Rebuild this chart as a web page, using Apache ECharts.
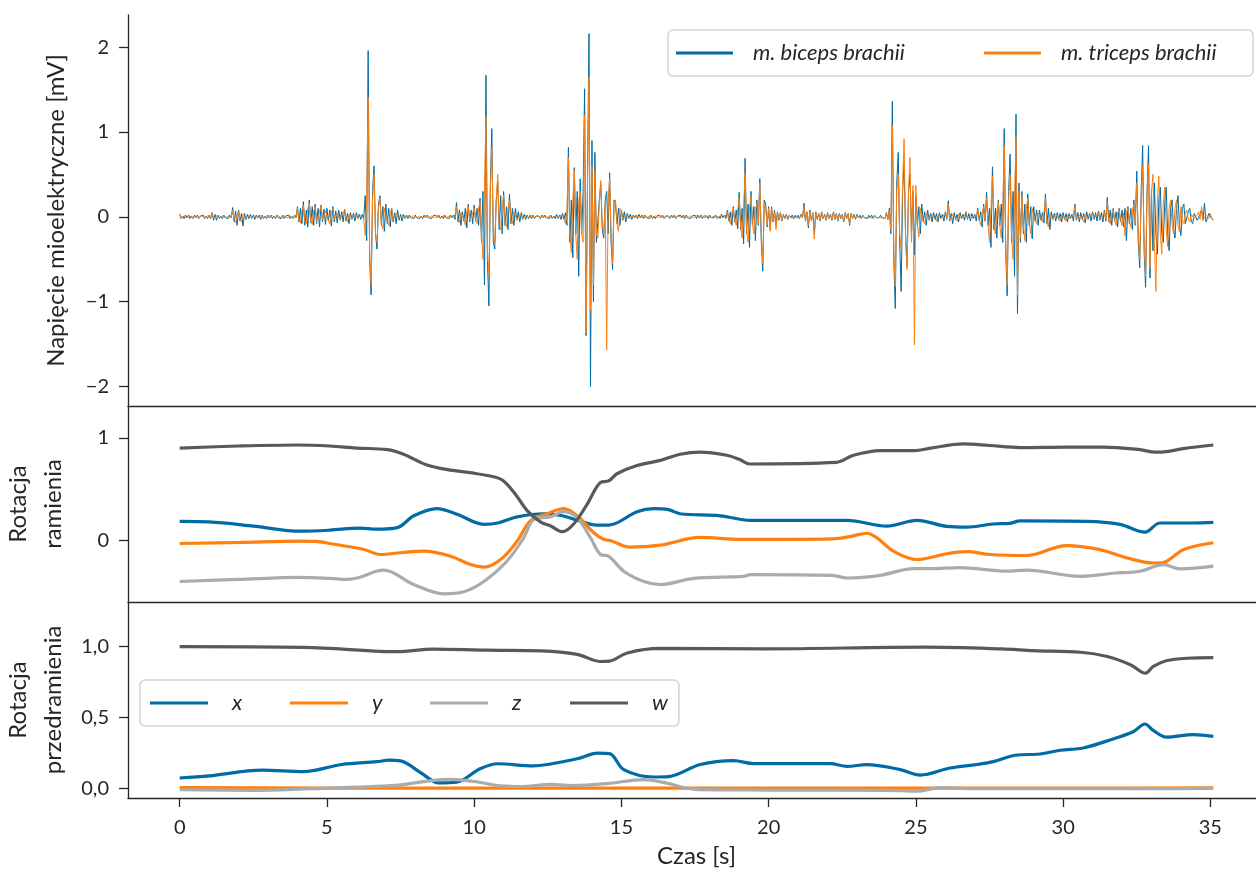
<!DOCTYPE html>
<html><head><meta charset="utf-8">
<script src="https://cdn.jsdelivr.net/npm/echarts@6/dist/echarts.min.js"></script>
<style>html,body{margin:0;padding:0;background:#fff}#c{width:1256px;height:875px}</style>
</head><body><div id="c"></div>
<script>
// ---------- DATA ----------
const emgStart = 0, emgStep = 0.05; // seconds, one row = 1 s
const bicepsValues = [
 0.02,-0.02,0.01,-0.02,0.02,-0.01,0.02,-0.02,0.01,-0.02,0.02,-0.01,0.02,-0.02,0.01,-0.01,0.02,-0.02,0.01,-0.02,
 0.02,-0.02,0.05,-0.04,0.03,-0.04,0.02,-0.02,0.01,-0.02,0.02,-0.01,0.01,-0.02,0.02,-0.01,0.11,-0.06,0.07,-0.10,
 0.08,-0.05,0.04,-0.11,0.04,-0.03,0.03,-0.02,0.03,-0.02,0.02,-0.03,0.02,-0.01,0.02,-0.03,0.02,-0.02,0.01,-0.02,
 0.02,-0.01,0.02,-0.02,0.01,-0.02,0.02,-0.01,0.01,-0.02,0.02,-0.02,0.01,-0.01,0.02,-0.02,0.01,-0.02,0.02,-0.01,
 0.12,-0.06,0.1,-0.08,0.18,-0.1,0.08,-0.12,0.2,-0.07,0.12,-0.1,0.15,-0.08,0.1,-0.12,0.14,-0.06,0.09,-0.09,
 0.1,-0.05,0.08,-0.11,0.12,-0.06,0.07,-0.07,0.08,-0.04,0.06,-0.06,0.09,-0.05,0.04,-0.08,0.05,-0.03,0.04,-0.05,
 0.05,-0.02,0.03,-0.03,0.03,-0.02,0.25,-0.28,1.96,-0.5,-0.92,0.3,0.6,-0.2,-0.38,0.15,0.25,-0.1,0.12,-0.17,
 0.15,-0.08,0.1,-0.12,0.1,-0.06,0.05,-0.08,0.08,-0.04,0.03,-0.05,0.03,-0.02,0.02,-0.02,0.02,-0.01,0.01,-0.02,
 0.02,-0.01,0.01,-0.02,0.01,-0.02,0.02,-0.01,0.02,-0.01,0.01,-0.02,0.01,-0.01,0.02,-0.01,0.02,-0.02,0.01,-0.02,
 0.02,-0.01,0.01,-0.02,0.02,-0.01,0.02,-0.03,0.17,-0.06,0.08,-0.1,0.06,-0.05,0.1,-0.13,0.15,-0.06,0.08,-0.08,
 0.14,-0.05,0.1,-0.1,0.22,-0.3,0.3,-0.8,1.67,-0.5,-1.05,0.4,1.04,-0.3,-0.38,0.2,0.42,-0.15,0.25,-0.2,
 0.3,-0.1,0.12,-0.15,0.27,-0.08,0.1,-0.1,0.1,-0.04,0.06,-0.06,0.05,-0.03,0.03,-0.03,0.02,-0.02,0.02,-0.02,
 0.02,-0.02,0.01,-0.01,0.01,-0.02,0.02,-0.01,0.02,-0.01,0.01,-0.02,0.02,-0.02,0.01,-0.02,0.03,-0.02,0.02,-0.03,
 0.04,-0.03,0.05,-0.1,0.82,-0.3,0.2,-0.48,0.58,-0.2,0.3,-0.70,0.45,-0.2,0.3,1.51,-1.4,0.5,2.16,-2.0,
 0.9,-1.0,0.76,-0.3,-0.3,0.2,0.4,-0.15,-0.25,0.2,0.3,-0.2,0.52,-0.3,-0.62,0.2,0.15,-0.08,0.1,-0.1,
 0.08,-0.04,0.06,-0.06,0.04,-0.02,0.03,-0.03,0.02,-0.01,0.02,-0.02,0.03,-0.01,0.02,-0.02,0.02,-0.01,0.01,-0.02,
 0.02,-0.02,0.01,-0.02,0.01,-0.01,0.02,-0.01,0.02,-0.02,0.01,-0.01,0.01,-0.02,0.02,-0.01,0.02,-0.02,0.01,-0.01,
 0.02,-0.01,0.02,-0.02,0.02,-0.01,0.01,-0.02,0.01,-0.01,0.02,-0.02,0.02,-0.01,0.02,-0.02,0.01,-0.01,0.01,-0.02,
 0.02,-0.01,0.01,-0.01,0.02,-0.02,0.01,-0.02,0.03,-0.01,0.02,-0.02,0.08,-0.05,0.06,-0.1,0.12,-0.06,0.08,-0.14,
 0.29,-0.15,0.1,-0.32,0.69,-0.2,0.15,-0.36,0.3,-0.1,0.12,-0.28,0.2,-0.1,0.45,-0.3,-0.64,0.2,0.15,-0.12,
 0.12,-0.15,0.12,-0.06,0.08,-0.1,0.06,-0.04,0.05,-0.05,0.03,-0.02,0.03,-0.03,0.02,-0.01,0.02,-0.02,0.02,-0.01,
 0.02,-0.02,0.03,-0.01,0.16,-0.05,0.06,-0.13,0.08,-0.04,0.05,-0.2,0.06,-0.03,0.04,-0.05,0.06,-0.02,0.03,-0.04,
 0.05,-0.02,0.03,-0.04,0.06,-0.03,0.04,-0.05,0.04,-0.02,0.03,-0.06,0.05,-0.02,0.04,-0.1,0.04,-0.02,0.03,-0.03,
 0.03,-0.01,0.02,-0.02,0.02,-0.01,0.01,-0.02,0.02,-0.01,0.02,-0.02,0.02,-0.01,0.01,-0.01,0.02,-0.01,0.01,-0.02,
 0.05,-0.03,0.1,-0.2,1.36,-0.5,-1.08,0.4,0.76,-0.3,-0.88,0.3,0.64,-0.2,-0.58,0.3,0.5,-0.2,0.3,-0.45,
 0.25,-0.1,0.12,-0.2,0.15,-0.06,0.06,-0.1,0.08,-0.04,0.04,-0.06,0.05,-0.03,0.04,-0.06,0.05,-0.02,0.03,-0.05,
 0.06,-0.03,0.19,-0.05,0.04,-0.08,0.05,-0.03,0.03,-0.06,0.05,-0.02,0.03,-0.04,0.06,-0.03,0.04,-0.05,0.04,-0.02,
 0.03,-0.05,0.1,-0.04,0.06,-0.12,0.15,-0.05,0.29,-0.1,0.1,-0.36,0.59,-0.15,0.1,-0.25,0.2,-0.1,0.15,-0.3,
 1.04,-0.4,-0.93,0.3,0.74,-0.3,0.3,-0.7,1.21,-1.14,0.4,-0.3,0.3,-0.2,0.15,-0.3,0.27,-0.1,0.12,-0.26,
 0.12,-0.05,0.08,-0.1,0.08,-0.04,0.05,-0.07,0.27,-0.08,0.1,-0.15,0.06,-0.03,0.04,-0.05,0.05,-0.03,0.04,-0.06,
 0.05,-0.03,0.04,-0.06,0.04,-0.02,0.03,-0.05,0.15,-0.04,0.05,-0.06,0.05,-0.03,0.04,-0.07,0.06,-0.03,0.04,-0.05,
 0.06,-0.03,0.05,-0.05,0.07,-0.04,0.05,-0.06,0.08,-0.05,0.23,-0.06,0.08,-0.1,0.1,-0.05,0.06,-0.12,0.1,-0.06,
 0.08,-0.12,0.1,-0.28,0.12,-0.08,0.1,-0.15,0.2,-0.1,0.54,-0.3,-0.6,0.3,0.84,-0.4,-0.83,0.3,0.84,-0.72,
 0.3,-0.4,0.4,-0.2,-0.44,0.2,0.35,-0.2,-0.3,0.15,0.35,-0.2,-0.4,0.1,0.2,-0.15,-0.25,0.1,0.25,-0.1,
 -0.22,0.1,0.15,-0.08,-0.1,0.06,0.1,-0.05,-0.08,0.04,0.06,-0.04,-0.05,0.03,0.08,-0.04,0.16,-0.06,-0.06,0.04,
 0.05,-0.02,-0.04
];
const tricepsValues = [
 0.04,-0.01,-0.01,0.01,0.01,-0.01,-0.02,0.01,0.01,-0.01,-0.01,0.01,0.02,-0.01,-0.01,0.01,0.01,-0.01,-0.02,0.01,
 0.01,-0.01,0.04,-0.02,-0.03,0.01,0.02,-0.01,-0.01,0.01,0.02,-0.01,-0.01,0.01,0.01,-0.01,0.08,-0.04,-0.07,0.03,
 0.06,-0.03,-0.06,0.03,0.03,-0.01,-0.02,0.01,0.03,-0.01,-0.02,0.01,0.02,-0.01,-0.02,0.01,0.02,-0.01,-0.01,0.01,
 0.01,-0.01,-0.02,0.01,0.01,-0.01,-0.01,0.01,0.02,-0.01,-0.01,0.01,0.01,-0.01,-0.02,0.01,0.01,-0.01,-0.01,0.01,
 0.1,-0.04,-0.07,0.08,0.14,-0.05,-0.08,0.1,0.16,-0.05,-0.09,0.07,0.12,-0.06,-0.08,0.06,0.13,-0.04,-0.06,0.07,
 0.08,-0.04,-0.08,0.06,0.1,-0.03,-0.05,0.04,0.06,-0.03,-0.05,0.05,0.08,-0.03,-0.06,0.03,0.04,-0.02,-0.04,0.03,
 0.04,-0.01,-0.02,0.02,0.03,-0.02,-0.22,0.2,1.41,-0.4,-0.80,0.2,0.5,-0.2,-0.3,0.1,0.22,-0.08,-0.14,0.1,
 0.12,-0.05,-0.1,0.06,0.09,-0.04,-0.06,0.04,0.06,-0.02,-0.04,0.02,0.02,-0.01,-0.02,0.01,0.01,-0.01,-0.01,0.01,
 0.01,-0.01,-0.01,0.01,0.01,-0.01,-0.01,0.01,0.01,-0.01,-0.01,0.01,0.01,-0.01,-0.01,0.01,0.01,-0.01,-0.01,0.01,
 0.01,-0.01,-0.01,0.01,0.01,-0.01,-0.02,0.02,0.12,-0.04,-0.07,0.05,0.05,-0.03,-0.1,0.06,0.12,-0.04,-0.06,0.05,
 0.1,-0.04,-0.08,0.1,0.18,-0.2,-0.5,0.3,1.18,-0.4,-0.7,0.3,0.82,-0.2,-0.3,0.2,0.5,-0.1,-0.15,0.15,
 0.25,-0.06,-0.12,0.1,0.2,-0.05,-0.08,0.06,0.08,-0.03,-0.05,0.03,0.04,-0.02,-0.02,0.02,0.02,-0.01,-0.01,0.01,
 0.01,-0.01,-0.01,0.01,0.02,-0.01,-0.01,0.01,0.01,-0.01,-0.02,0.01,0.01,-0.01,-0.01,0.01,0.02,-0.01,-0.02,0.02,
 0.03,-0.02,-0.08,0.05,0.70,-0.2,-0.42,0.2,0.55,-0.2,-0.5,0.2,0.3,-0.2,-0.3,1.2,-1.37,0.4,1.65,-1.1,
 0.6,-0.8,0.54,-0.2,-0.25,0.15,0.43,-0.1,-0.2,0.15,-1.57,0.2,0.45,-0.2,-0.55,0.15,0.2,-0.08,-0.17,0.1,
 0.07,-0.03,-0.05,0.03,0.03,-0.01,-0.02,0.01,0.02,-0.01,-0.02,0.01,0.02,-0.01,-0.01,0.01,0.01,-0.01,-0.01,0.01,
 0.01,-0.01,-0.01,0.01,0.02,-0.01,-0.01,0.01,0.01,-0.01,-0.01,0.01,0.01,-0.01,-0.01,0.01,0.02,-0.01,-0.01,0.01,
 0.01,-0.01,-0.02,0.01,0.01,-0.01,-0.01,0.01,0.02,-0.01,-0.01,0.01,0.01,-0.01,-0.01,0.01,0.01,-0.01,-0.01,0.01,
 0.01,-0.01,-0.01,0.01,0.02,-0.01,-0.01,0.01,0.02,-0.01,-0.02,0.02,0.06,-0.03,-0.08,0.05,0.1,-0.04,-0.1,0.08,
 0.22,-0.1,-0.25,0.1,0.52,-0.15,-0.3,0.1,0.25,-0.08,-0.2,0.1,0.15,-0.08,0.4,-0.2,-0.55,0.15,0.12,-0.1,
 0.1,-0.17,0.1,-0.05,0.06,-0.15,0.05,-0.03,0.04,-0.04,0.02,-0.02,0.02,-0.02,0.02,-0.01,0.01,-0.01,0.01,-0.01,
 0.01,-0.01,0.02,-0.01,0.12,-0.04,0.05,-0.1,0.06,-0.03,0.04,-0.26,0.05,-0.02,0.03,-0.04,0.05,-0.02,0.02,-0.03,
 0.04,-0.02,0.02,-0.03,0.05,-0.02,0.03,-0.04,0.03,-0.01,0.02,-0.05,0.04,-0.02,0.03,-0.08,0.03,-0.01,0.02,-0.02,
 0.02,-0.01,0.01,-0.01,0.02,-0.01,0.01,-0.01,0.01,-0.01,0.01,-0.01,0.02,-0.01,0.01,-0.01,0.01,-0.01,0.01,-0.02,
 0.04,-0.02,0.08,-0.15,1.08,-0.4,-0.82,0.3,0.5,-0.2,-0.38,0.4,0.92,-0.3,-0.62,0.3,0.7,-0.3,0.37,-1.51,
 0.37,-0.1,-0.24,0.1,0.12,-0.05,-0.08,0.04,0.06,-0.03,-0.05,0.03,0.04,-0.02,-0.05,0.02,0.04,-0.02,-0.04,0.02,
 0.05,-0.02,0.15,-0.04,-0.06,0.03,0.04,-0.02,-0.05,0.03,0.04,-0.02,-0.03,0.02,0.05,-0.02,-0.04,0.02,0.03,-0.02,
 -0.04,0.02,0.08,-0.03,-0.1,0.05,0.12,-0.05,0.22,-0.1,-0.3,0.1,0.48,-0.1,-0.2,0.08,0.18,-0.1,-0.25,0.1,
 0.84,-0.3,-0.8,0.2,0.5,-0.2,-0.5,0.2,0.94,-0.92,0.3,-0.25,0.25,-0.1,-0.28,0.1,0.22,-0.08,-0.2,0.1,
 0.1,-0.04,-0.08,0.05,0.07,-0.03,-0.06,0.05,0.22,-0.06,-0.12,0.04,0.05,-0.02,-0.04,0.03,0.04,-0.02,-0.05,0.03,
 0.04,-0.02,-0.05,0.02,0.03,-0.02,-0.04,0.03,0.12,-0.03,-0.05,0.02,0.04,-0.02,-0.06,0.03,0.05,-0.02,-0.04,0.02,
 0.05,-0.02,-0.04,0.03,0.06,-0.03,-0.05,0.03,0.06,-0.03,0.18,-0.05,-0.08,0.04,0.08,-0.04,-0.1,0.05,0.08,-0.04,
 -0.1,0.05,-0.22,0.06,0.1,-0.05,-0.12,0.06,0.15,-0.08,0.4,-0.2,-0.5,0.2,0.6,-0.3,-0.7,0.3,0.62,-0.6,
 0.3,0.5,-0.3,-0.88,0.2,0.48,-0.2,-0.44,0.15,0.35,-0.15,-0.35,0.1,0.2,-0.1,-0.2,0.1,0.2,-0.1,-0.18,
 0.12,-0.05,-0.08,0.04,0.08,-0.03,-0.06,0.03,0.05,-0.02,-0.04,0.02,0.06,-0.03,0.12,-0.04,-0.05,0.02,0.04,-0.02,
 0.04,-0.02,-0.03
];

// arm rotation quaternion [t, value]
const armX = [[0,0.185],[1,0.18],[2.5,0.14],[4.1,0.09],[5.1,0.10],[6.1,0.12],[6.7,0.11],[7.39,0.125],[7.95,0.24],[8.74,0.31],[9.42,0.255],[10.33,0.157],[10.8,0.17],[11.46,0.23],[12.37,0.26],[13.0,0.24],[13.5,0.196],[14.17,0.15],[14.57,0.15],[15.53,0.28],[16.1,0.31],[16.6,0.30],[17.0,0.26],[18.36,0.24],[19.38,0.196],[22.66,0.196],[24.01,0.14],[25.03,0.196],[26.05,0.137],[26.72,0.13],[27.62,0.16],[28.2,0.167],[28.54,0.19],[30.8,0.186],[31.93,0.157],[32.78,0.08],[33.29,0.17],[34.42,0.17],[35.1,0.176]];
const armY = [[0,-0.03],[2,-0.02],[4.1,-0.007],[4.6,-0.01],[5.2,-0.035],[6.26,-0.088],[6.82,-0.137],[7.5,-0.12],[8.3,-0.105],[9.2,-0.154],[9.87,-0.235],[10.33,-0.26],[10.9,-0.186],[11.46,-0.007],[11.91,0.19],[12.48,0.26],[13.04,0.31],[13.5,0.24],[14.06,0.075],[14.4,0.01],[14.62,0.0],[15.3,-0.065],[16.32,-0.046],[17.68,0.03],[19.04,0.01],[22.2,0.016],[22.8,0.04],[23.33,0.07],[23.7,0.02],[24.24,-0.105],[25.03,-0.186],[26.05,-0.13],[26.72,-0.11],[27.52,-0.137],[28.76,-0.147],[30.12,-0.05],[31.25,-0.09],[32.16,-0.17],[33.06,-0.22],[33.4,-0.215],[34.08,-0.09],[35.1,-0.023]];
const armZ = [[0,-0.40],[2,-0.38],[4.1,-0.36],[5.12,-0.37],[5.69,-0.38],[6.03,-0.366],[6.93,-0.29],[7.95,-0.43],[8.97,-0.52],[9.65,-0.50],[10.33,-0.40],[11.12,-0.20],[11.68,0.026],[12.03,0.206],[12.59,0.23],[13.04,0.28],[13.5,0.22],[13.95,0.026],[14.29,-0.137],[14.57,-0.154],[15.08,-0.30],[15.76,-0.40],[16.32,-0.43],[17.46,-0.37],[19.15,-0.35],[19.38,-0.333],[22.15,-0.34],[22.66,-0.366],[23.79,-0.34],[24.92,-0.275],[25.5,-0.275],[26.5,-0.265],[28.09,-0.30],[28.76,-0.29],[30.57,-0.35],[31.7,-0.32],[32.61,-0.30],[33.4,-0.235],[33.97,-0.277],[35.1,-0.25]];
const armW = [[0,0.90],[2,0.92],[4,0.93],[5.1,0.92],[6,0.90],[7.05,0.885],[7.6,0.84],[8.4,0.735],[9.1,0.69],[9.87,0.66],[10.66,0.62],[11.0,0.58],[11.4,0.45],[11.8,0.29],[12.25,0.18],[12.6,0.14],[13.0,0.085],[13.38,0.16],[13.83,0.35],[14.29,0.565],[14.57,0.58],[14.85,0.65],[15.53,0.73],[16.32,0.78],[17.0,0.84],[17.68,0.86],[18.58,0.83],[19.0,0.79],[19.35,0.745],[22.3,0.76],[22.88,0.83],[23.79,0.875],[24.97,0.875],[25.5,0.9],[26.6,0.94],[27.5,0.925],[28.54,0.905],[30.12,0.91],[31.37,0.91],[32.61,0.885],[33.12,0.86],[33.5,0.865],[34.08,0.895],[35.1,0.93]];

// forearm rotation quaternion [t, value]
const foreX = [[0,0.075],[1,0.09],[2.8,0.13],[4.2,0.12],[5.5,0.17],[6.7,0.19],[7.1,0.2],[7.5,0.195],[8.2,0.11],[8.8,0.04],[9.4,0.045],[10.2,0.14],[10.8,0.175],[12.0,0.16],[12.5,0.17],[13.5,0.21],[14.2,0.25],[14.6,0.246],[15.08,0.134],[16.1,0.082],[16.6,0.085],[17.68,0.17],[18.81,0.197],[19.49,0.176],[22.09,0.176],[22.66,0.157],[23.33,0.169],[24.47,0.134],[25.15,0.095],[26.16,0.145],[27.07,0.17],[27.63,0.19],[28.37,0.235],[29.22,0.244],[29.9,0.27],[30.68,0.286],[31.7,0.35],[32.38,0.40],[32.78,0.455],[33.06,0.41],[33.51,0.363],[34.42,0.38],[35.1,0.368]];
const foreY = [[0,0.008],[5,0.004],[10,0.003],[15,0.004],[20,0.004],[25,0.003],[30,0.004],[35.1,0.005]];
const foreZ = [[0,-0.008],[2.5,-0.012],[4.5,0.0],[6,0.01],[7.4,0.025],[8.5,0.055],[9.2,0.065],[10,0.05],[10.9,0.02],[11.7,0.015],[12.6,0.03],[13.3,0.022],[14.5,0.035],[15.76,0.063],[16.5,0.04],[17.5,-0.005],[20,-0.01],[24,-0.012],[25,-0.018],[25.9,0.008],[27,0.0],[30,0.0],[33,0.0],[35.1,0.002]];
const foreW = [[0,1.0],[4.2,0.995],[6.8,0.967],[7.4,0.965],[8.6,0.982],[10.4,0.975],[12.3,0.97],[13.5,0.945],[14.3,0.895],[14.6,0.898],[15.2,0.955],[16.3,0.987],[19.9,0.984],[25.3,0.996],[27.9,0.984],[29.0,0.972],[30.6,0.96],[31.5,0.93],[32.3,0.871],[32.8,0.813],[33.06,0.86],[33.5,0.90],[34.2,0.918],[35.1,0.922]];

const timeTicks = [0,5,10,15,20,25,30,35];
const emgTicks = [-2,-1,0,1,2];
const armTicks = [0,1];
const foreTicks = [0,0.5,1];
const emgNames = ['m. biceps brachii','m. triceps brachii'];
const quatNames = ['x','y','z','w'];

// ---------- STYLE ----------
const FONT = 'Lato';
const TXT = '#262626';
const AXC = '#262626';
const COL = {x:'#006BA4', y:'#FF800E', z:'#ABABAB', w:'#595959'};
const axisLineStyle = {color: AXC, width: 1.3};

function emgPairs(vals){ return vals.map((v,i)=>[Math.round((emgStart+i*emgStep)*100)/100, v]); }

const chart = echarts.init(document.getElementById('c'), null, {renderer:'canvas', width:1256, height:875});

const gridLeft = 128, gridWidth = 1137;
const grids = [
  {left:gridLeft, top:15, width:gridWidth, height:391, outerBoundsMode:'none', containLabel:false},
  {left:gridLeft, top:406, width:gridWidth, height:196, outerBoundsMode:'none', containLabel:false},
  {left:gridLeft, top:602, width:gridWidth, height:196, outerBoundsMode:'none', containLabel:false}
];

function xAx(i, bottom){
  const a = {
    type:'value', gridIndex:i, min:-1.755, max:36.855,
    axisLine:{show:true, onZero:false, lineStyle:axisLineStyle},
    splitLine:{show:false},
    axisTick:{show:false}, axisLabel:{show:false}
  };
  if (bottom){
    a.axisTick = {show:true, customValues:timeTicks, length:9, lineStyle:axisLineStyle};
    a.axisLabel = {show:true, customValues:timeTicks, margin:20, fontSize:20, fontFamily:FONT, color:TXT};
    a.name = 'Czas [s]';
    a.nameLocation = 'middle';
    a.nameGap = 46;
    a.nameTextStyle = {fontSize:24, fontFamily:FONT, color:TXT};
  }
  return a;
}
function yAx(i, min, max, ticks, name, fmt, gap){
  return {
    type:'value', gridIndex:i, min:min, max:max,
    axisLine:{show:true, onZero:false, lineStyle:axisLineStyle},
    splitLine:{show:false},
    axisTick:{show:true, customValues:ticks, length:9, lineStyle:axisLineStyle},
    axisLabel:{show:true, customValues:ticks, margin:19, fontSize:20, fontFamily:FONT, color:TXT, formatter:fmt},
    name:name, nameLocation:'middle', nameGap:gap, nameRotate:90,
    nameTextStyle:{fontSize:24, fontFamily:FONT, color:TXT, lineHeight:35}
  };
}
const minusFmt = v => String(v).replace('-', '\u2212');
const commaFmt = v => v.toFixed(1).replace('.', ',');

function quatSeries(data, name, idx){
  return {type:'line', name:name, xAxisIndex:idx, yAxisIndex:idx, data:data,
    showSymbol:false, symbol:'none', smooth:0.35, silent:true,
    lineStyle:{width:3.2, color:COL[name]}, itemStyle:{color:COL[name]}};
}
function emgSeries(vals, name, color){
  return {type:'line', name:name, xAxisIndex:0, yAxisIndex:0, data:emgPairs(vals),
    showSymbol:false, symbol:'none', silent:true,
    lineStyle:{width:1.0, color:color}, itemStyle:{color:color}};
}

const legendBase = {
  orient:'horizontal', icon:'rect', itemHeight:3,
  borderColor:'#d2d2d2', borderWidth:1.5, borderRadius:5,
  backgroundColor:'rgba(255,255,255,0.8)', selectedMode:false,
  itemStyle:{borderWidth:0}
};

const option = {
  animation:false,
  backgroundColor:'#ffffff',
  grid:grids,
  xAxis:[xAx(0,false), xAx(1,false), xAx(2,true)],
  yAxis:[
    yAx(0, -2.2295, 2.3795, emgTicks, 'Napięcie mioelektryczne [mV]', minusFmt, 54),
    yAx(1, -0.60, 1.31, armTicks, 'Rotacja\nramienia', minusFmt, 57),
    yAx(2, -0.066, 1.314, foreTicks, 'Rotacja\nprzedramienia', commaFmt, 57)
  ],
  legend:[
    Object.assign({}, legendBase, {
      data:emgNames, left:668, top:30, itemWidth:57, itemGap:51, padding:[12,12,12,8],
      formatter: n => '{s| }{t|' + n + '}',
      textStyle:{fontFamily:FONT, fontSize:22, color:TXT, fontStyle:'italic',
        rich:{s:{width:15, fontSize:22, lineHeight:24}, t:{width:180, fontSize:22, lineHeight:24, fontStyle:'italic', fontFamily:FONT, color:TXT}}}
    }),
    Object.assign({}, legendBase, {
      data:quatNames, left:140, top:680, itemWidth:58, itemGap:44, padding:[12,11,12,10],
      formatter: n => '{s| }{t|' + n + '}',
      textStyle:{fontFamily:FONT, fontSize:22, color:TXT, fontStyle:'italic',
        rich:{s:{width:19, fontSize:22, lineHeight:24}, t:{width:14, fontSize:22, lineHeight:24, fontStyle:'italic', fontFamily:FONT, color:TXT}}}
    })
  ],
  series:[
    emgSeries(bicepsValues, emgNames[0], COL.x),
    emgSeries(tricepsValues, emgNames[1], COL.y),
    quatSeries(armX,'x',1), quatSeries(armY,'y',1), quatSeries(armZ,'z',1), quatSeries(armW,'w',1),
    quatSeries(foreX,'x',2), quatSeries(foreY,'y',2), quatSeries(foreZ,'z',2), quatSeries(foreW,'w',2)
  ]
};
chart.setOption(option);
</script>
</body></html>
